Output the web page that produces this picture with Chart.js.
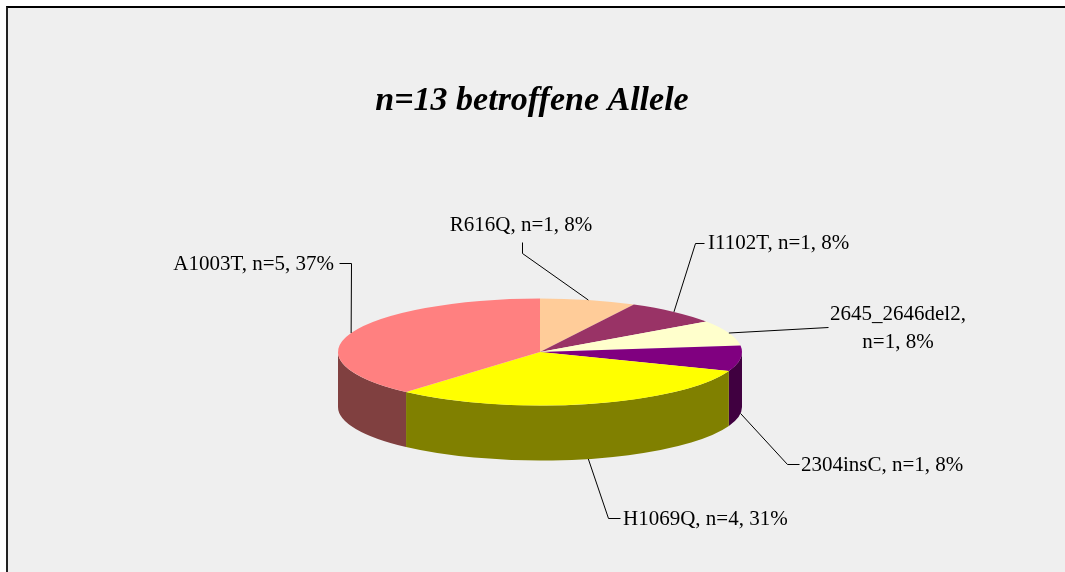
<!DOCTYPE html>
<html>
<head>
<meta charset="utf-8">
<script src="https://cdn.jsdelivr.net/npm/chart.js@4/dist/chart.umd.min.js"></script>
<style>
  body { margin: 0; background: #fff; overflow: hidden; }
  #frame { position: absolute; left: 6px; top: 6px; width: 1059px; height: 566px;
           border-left: 2px solid #222; border-top: 2px solid #000;
           background: #efefef; box-sizing: border-box; }
  #wrap { position: absolute; left: 0; top: 0; width: 1065px; height: 572px; }
</style>
</head>
<body>
<div id="frame"></div>
<div id="wrap"><canvas id="chart"></canvas></div>
<script>
// data
const alleles = ['R616Q', 'I1102T', '2645_2646del2', '2304insC', 'H1069Q', 'A1003T'];
const counts = [1, 1, 1, 1, 4, 5];
const percents = [8, 8, 8, 8, 31, 37];
const chartTitle = 'n=13 betroffene Allele';

// colours (top face / side wall)
const topColors = ['#ffcc99', '#993366', '#ffffcc', '#800080', '#ffff00', '#ff8080'];
const sideColors = ['#80664d', '#4d1a33', '#808066', '#400040', '#808000', '#804040'];

// 3d look
const SQUASH = 0.265;
const DEPTH = 55;
const FONT = '"Liberation Serif", "Times New Roman", serif';

// label placement: text anchor + leader line bends (from pie towards text)
const labelLayout = [
  { lines: ['R616Q, n=1, 8%'], x: 521, y: 231, align: 'center', bends: [[522, 253], [522, 242]] },
  { lines: ['I1102T, n=1, 8%'], x: 708, y: 249, align: 'left', bends: [[695, 243], [704, 243]] },
  { lines: ['2645_2646del2,', 'n=1, 8%'], x: 898, y: 320, align: 'center', bends: [[828, 327]] },
  { lines: ['2304insC, n=1, 8%'], x: 801, y: 471, align: 'left', bends: [[787, 464], [799, 464]] },
  { lines: ['H1069Q, n=4, 31%'], x: 623, y: 525, align: 'left', bends: [[608, 518], [620, 518]] },
  { lines: ['A1003T, n=5, 37%'], x: 334, y: 270, align: 'right', bends: [[351, 263], [339, 263]] }
];

const pie3d = {
  id: 'pie3d',
  beforeDatasetsDraw(chart) {
    const ctx = chart.ctx;
    const arcs = chart.getDatasetMeta(0).data;
    const cx = arcs[0].x, cy = arcs[0].y, r = arcs[0].outerRadius;
    const ry = r * SQUASH;

    // side walls, only the front half is visible
    arcs.forEach((arc, i) => {
      const a1 = Math.max(arc.startAngle, 0);
      const a2 = Math.min(arc.endAngle, Math.PI);
      if (a2 <= a1) return;
      ctx.beginPath();
      ctx.ellipse(cx, cy, r, ry, 0, a1, a2);
      ctx.ellipse(cx, cy + DEPTH, r, ry, 0, a2, a1, true);
      ctx.closePath();
      ctx.fillStyle = sideColors[i];
      ctx.fill();
    });

    // squash the top face
    ctx.save();
    ctx.translate(0, cy);
    ctx.scale(1, SQUASH);
    ctx.translate(0, -cy);
  },
  afterDatasetsDraw(chart) {
    const ctx = chart.ctx;
    ctx.restore();

    const arcs = chart.getDatasetMeta(0).data;
    const cx = arcs[0].x, cy = arcs[0].y, r = arcs[0].outerRadius;
    const ry = r * SQUASH;

    ctx.save();
    ctx.strokeStyle = '#000';
    ctx.lineWidth = 1;
    ctx.fillStyle = '#000';
    ctx.font = '21px ' + FONT;
    ctx.textBaseline = 'alphabetic';

    arcs.forEach((arc, i) => {
      const mid = (arc.startAngle + arc.endAngle) / 2;
      const s = Math.sin(mid);
      const px = cx + r * Math.cos(mid);
      const py = cy + ry * s + (s > 0 ? DEPTH : 0);
      const lay = labelLayout[i];

      ctx.beginPath();
      ctx.moveTo(px, py);
      lay.bends.forEach(p => ctx.lineTo(p[0] + 0.5, p[1] + 0.5));
      ctx.stroke();

      ctx.textAlign = lay.align;
      lay.lines.forEach((t, k) => ctx.fillText(t, lay.x, lay.y + k * 28));
    });

    // title
    ctx.font = 'italic bold 34px ' + FONT;
    ctx.textAlign = 'center';
    ctx.fillText(chartTitle, 532, 110);
    ctx.restore();
  }
};

new Chart(document.getElementById('chart'), {
  type: 'pie',
  data: {
    labels: alleles,
    datasets: [{
      data: counts,
      backgroundColor: topColors,
      borderWidth: 0,
      offset: 0,
      hoverOffset: 0,
      clip: false
    }]
  },
  options: {
    responsive: true,
    maintainAspectRatio: false,
    animation: false,
    events: [],
    layout: { padding: { left: 338, right: 323, top: 150, bottom: 18 } },
    plugins: {
      legend: { display: false },
      tooltip: { enabled: false },
      title: { display: false }
    }
  },
  plugins: [pie3d]
});
</script>
</body>
</html>
